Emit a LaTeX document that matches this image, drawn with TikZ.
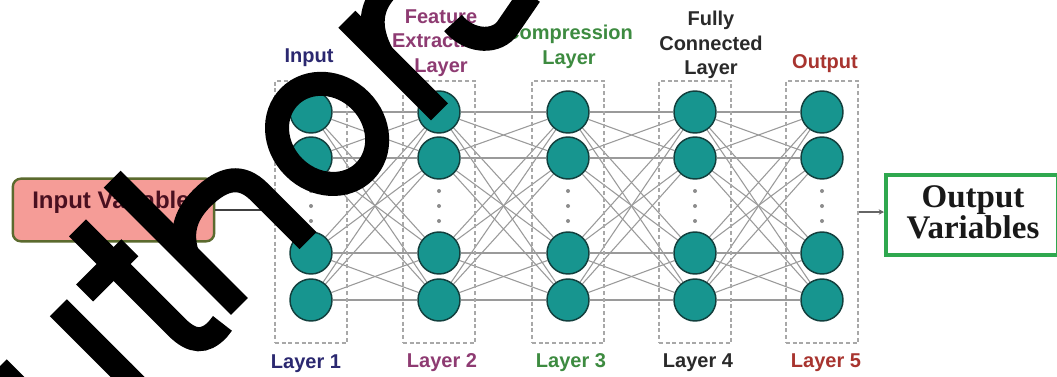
\documentclass[tikz,border=0pt]{standalone}
\usepackage{fontspec}
\setmainfont{Liberation Sans}
\newfontfamily\lsans{Liberation Sans}
\newfontfamily\lserif{Liberation Serif}
\usetikzlibrary{arrows.meta}

\definecolor{navyc}{HTML}{2B2870}
\definecolor{purpc}{HTML}{8E3B72}
\definecolor{greenc}{HTML}{3D8B40}
\definecolor{darkc}{HTML}{2A2A2A}
\definecolor{redc}{HTML}{A8342F}
\definecolor{tealc}{HTML}{17958F}
\definecolor{tealdk}{HTML}{123F3D}
\definecolor{linec}{HTML}{9A9A9A}
\definecolor{boxc}{HTML}{A8A8A8}
\definecolor{pinkc}{HTML}{F59C97}
\definecolor{olivec}{HTML}{5B6A2E}
\definecolor{maroonc}{HTML}{4A1020}
\definecolor{ogreen}{HTML}{2FA84F}
\definecolor{dotgray}{HTML}{8C8C8C}

\pgfdeclarelayer{bg}
\pgfdeclarelayer{lines}
\pgfsetlayers{bg,lines,main}

\begin{document}
\begin{tikzpicture}[x=0.75pt,y=-0.75pt,
  neuron/.style={circle, fill=tealc, draw=tealdk, line width=1.1pt, minimum size=31.5pt, inner sep=0pt},
  layerbox/.style={draw=boxc, dash pattern=on 3pt off 2pt, line width=1.1pt, minimum width=54pt, minimum height=196.5pt, inner sep=0pt},
  conn/.style={draw=linec, line width=0.8pt},
  lbl/.style={font=\lsans\bfseries\fontsize{15}{18.5}\selectfont, align=center, inner sep=0pt},
  wm/.style={draw=black, line width=18pt, line cap=butt},
]
\useasboundingbox (0,0) rectangle (1057,376);
\begin{pgfonlayer}{bg}
\fill[white] (0,0) rectangle (1057,376);
\end{pgfonlayer}
\clip (0,0) rectangle (1057,376);

% layers, neurons, dots
\foreach \c [count=\i] in {311,439,568,695,822} {
  \node[layerbox] (b\i) at (\c,212) {};
  \foreach \y [count=\r] in {112,158,253,300}
    \node[neuron] (n\i\r) at (\c,\y) {};
  \foreach \y in {191,206,221}
    \fill[dotgray] (\c,\y) circle (2);
}

% connections
\begin{pgfonlayer}{lines}
\foreach \i in {1,...,4} {
  \pgfmathtruncatemacro\j{\i+1}
  \foreach \a in {1,...,4}
    \foreach \b in {1,...,4}
      \draw[conn] (n\i\a) -- (n\j\b);
}
\end{pgfonlayer}

% top labels
\node[lbl, text=navyc] (t1) at (309,58) {Input};
\node[lbl, text=purpc] (t2) at (441,43) {Feature\\Extraction\\Layer};
\node[lbl, text=greenc] (t3) at (569,47) {Compression\\Layer};
\node[lbl, text=darkc] (t4) at (711,45) {Fully\\Connected\\Layer};
\node[lbl, text=redc] (t5) at (825,64) {Output};
% bottom labels
\node[lbl, text=navyc] (l1) at (306,364) {Layer 1};
\node[lbl, text=purpc] (l2) at (442,363) {Layer 2};
\node[lbl, text=greenc] (l3) at (571,363) {Layer 3};
\node[lbl, text=darkc] (l4) at (698,363) {Layer 4};
\node[lbl, text=redc] (l5) at (826,363) {Layer 5};

% input variable box
\node[draw=olivec, fill=pinkc, line width=1.8pt, rounded corners=6pt,
      minimum width=151pt, minimum height=47pt, inner sep=0pt] (iv) at (113.5,210) {};
\node[font=\lsans\bfseries\fontsize{18}{20}\selectfont, text=maroonc, inner sep=0pt] (ivt) at (111,202) {Input Variable};
\draw[draw=black!75, line width=1.2pt] (iv.east) -- (iv.east -| b1.west);

% output variables box
\node[draw=ogreen, line width=3pt, minimum width=129pt, minimum height=60pt, inner sep=0pt] (ov) at (972,215) {};
\node[font=\lserif\bfseries\fontsize{24.75}{21.75}\selectfont, align=center, text=black!90, inner sep=0pt] (ovt) at (973,212) {Output\\Variables};
\draw[-{Stealth[length=4pt,width=4pt]}, draw=black!60, line width=0.8pt] (b5.east) -- (b5.east -| ov.west);

% watermark (rotated lettering), drawn in its own baseline frame
\begin{scope}[shift={(238,305)}, rotate=45, yscale=-1]
  % u
  \draw[wm] (-214,125) -- (-214,40) .. controls (-214,5) and (-195,-3) .. (-172,-3)
            .. controls (-150,-3) and (-129,10) .. (-129,35);
  \draw[wm] (-129,125) -- (-129,-6);
  % t
  \draw[wm] (-59,168) -- (-59,28) .. controls (-59,5) and (-50,-3) .. (-32,-3) -- (-24,-2);
  \draw[wm] (-100,117) -- (-36,117);
  % h
  \draw[wm] (0,178) -- (0,-2);
  \draw[wm] (0,72) .. controls (12,95) and (30,101) .. (50,101)
            .. controls (80,101) and (95,90) .. (95,65) -- (95,-4);
  % o
  \draw[wm] (184,58) ellipse [x radius=47, y radius=53];
  % r
  \draw[wm] (279,125) -- (279,-6);
  \draw[wm] (279,75) .. controls (288,105) and (305,118) .. (330,118) -- (345,116);
\end{scope}
% s (only its lower part shows)
\draw[wm] (453,23) .. controls (468,41) and (493,44) .. (506,30) -- (530,-5);
\end{tikzpicture}
\end{document}
